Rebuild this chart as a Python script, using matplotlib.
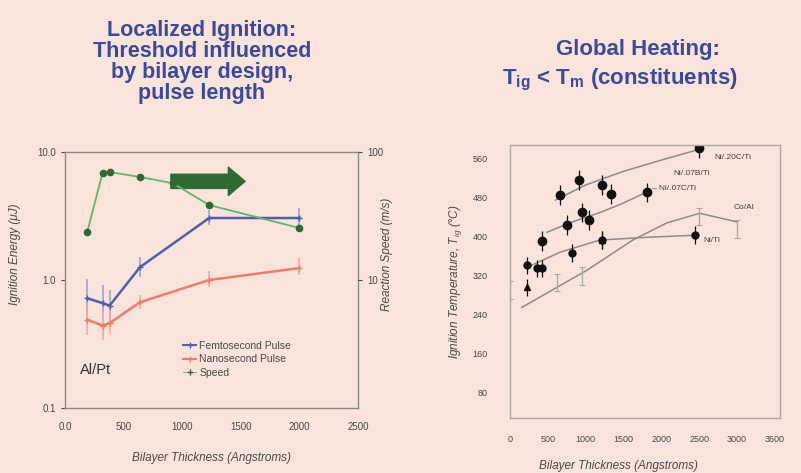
import matplotlib
matplotlib.use("Agg")
import matplotlib.pyplot as plt
from matplotlib.lines import Line2D
from matplotlib.patches import FancyArrowPatch

plt.rcParams['font.family'] = ['Liberation Sans', 'DejaVu Sans']
plt.rcParams['mathtext.fontset'] = 'custom'
plt.rcParams['mathtext.rm'] = 'Liberation Sans'
plt.rcParams['mathtext.it'] = 'Liberation Sans:italic'
plt.rcParams['mathtext.bf'] = 'Liberation Sans:bold'

# ---------------- left chart data (Al/Pt) ----------------
thick_energy = [190, 320, 380, 640, 1230, 2000]
femto_energy = [0.72, 0.66, 0.63, 1.26, 3.05, 3.05]
femto_err_lo = [0.2, 0.17, 0.13, 0.2, 0.35, 0.45]
femto_err_hi = [0.3, 0.25, 0.2, 0.25, 0.5, 0.6]
nano_energy = [0.49, 0.44, 0.46, 0.67, 1.0, 1.24]
nano_err_lo = [0.12, 0.1, 0.08, 0.08, 0.12, 0.15]
nano_err_hi = [0.15, 0.12, 0.1, 0.1, 0.18, 0.25]
thick_speed = [190, 320, 380, 640, 920, 1230, 2000]
speed = [23.7, 68.5, 69.8, 63.8, 57.0, 38.5, 25.5]
left_xticks = [0, 500, 1000, 1500, 2000, 2500]
left_xticklabels = ['0.0', '500', '1000', '1500', '2000', '2500']
legend_labels = ['Femtosecond Pulse', 'Nanosecond Pulse', 'Speed']

# ---------------- right chart data ----------------
ni20_x = [660, 910, 1214, 2500]
ni20_y = [484, 515, 505, 580]
ni07c_x = [422, 752, 950, 1042, 1333, 1807]
ni07c_y = [390, 423, 449, 433, 486, 490]
niti_x = [224, 356, 422, 818, 1214, 2450]
niti_y = [340, 334, 334, 365, 392, 402]
niti_tri_x = [224, 1214]
niti_tri_y = [295, 392]
coal_x = [0, 620, 950, 2500, 3000]
coal_y = [290, 305, 318, 440, 415]

fit_ni20_x = [600, 1000, 1500, 2000, 2500]
fit_ni20_y = [474, 505, 533, 556, 578]
fit_ni07_x = [490, 800, 1200, 1500, 1800]
fit_ni07_y = [408, 428, 449, 468, 490]
fit_niti_x = [224, 660, 1187, 1847, 2467]
fit_niti_y = [336, 367, 392, 398, 402]
fit_coal_x = [158, 1016, 1623, 2071, 2507, 3008]
fit_coal_y = [254, 330, 392, 427, 447, 429]

right_xticks = [0, 500, 1000, 1500, 2000, 2500, 3000, 3500]
right_yticks = [80, 160, 240, 320, 400, 480, 560]

BG = '#f8e4da'
TITLE = '#3a4a9c'
TXT = '#4a4a4a'
BLUE = '#4f5fae'
RED = '#ee7c6c'
GREEN = '#62b56c'
DKGREEN = '#2f6a35'

fig = plt.figure(figsize=(8.01, 4.73), dpi=100, facecolor=BG)

# ---------------- titles ----------------
fig.text(202 / 801, 1 - 62 / 473,
         'Localized Ignition:\nThreshold influenced\nby bilayer design,\npulse length',
         ha='center', va='center', fontsize=15.5, fontweight='bold', color=TITLE,
         linespacing=1.0)
fig.text(638 / 801, 1 - 50 / 473, 'Global Heating:', ha='center', va='center',
         fontsize=16, fontweight='bold', color=TITLE)
fig.text(620 / 801, 1 - 80 / 473, r'T$_\mathbf{ig}$ < T$_\mathbf{m}$ (constituents)',
         ha='center', va='center', fontsize=16, fontweight='bold', color=TITLE)

# ---------------- left chart ----------------
ax = fig.add_axes([65 / 801, 1 - 408 / 473, 293 / 801, 256 / 473])
ax.set_facecolor('none')
ax.set_yscale('log')
ax.set_xlim(0, 2500)
ax.set_ylim(0.1, 10)
ax.errorbar(thick_energy, femto_energy, yerr=[femto_err_lo, femto_err_hi],
            color=BLUE, lw=1.8, ecolor='#9aa4dd', elinewidth=1.2, capsize=0,
            marker='+', ms=4, zorder=3)
ax.errorbar(thick_energy, nano_energy, yerr=[nano_err_lo, nano_err_hi],
            color=RED, lw=1.8, ecolor='#f4aaa0', elinewidth=1.2, capsize=0,
            marker='+', ms=4, zorder=3)
ax.set_yticks([0.1, 1.0, 10.0])
ax.set_yticklabels(['0.1', '1.0', '10.0'])
ax.yaxis.set_minor_locator(matplotlib.ticker.NullLocator())
ax.set_xticks(left_xticks)
ax.set_xticklabels(left_xticklabels)
ax.tick_params(axis='both', labelsize=7, colors=TXT, length=3, width=0.8)
ax.tick_params(axis='x', length=0, pad=10)
for s in ax.spines.values():
    s.set_color('#8a8a8a')
    s.set_linewidth(1.0)
ax.set_xlabel('Bilayer Thickness (Angstroms)', fontsize=8.5, style='italic', color=TXT)
ax.xaxis.set_label_coords(0.5, -0.17)
ax.set_ylabel('Ignition Energy (\u03bcJ)', fontsize=8.5, style='italic', color=TXT)
ax.yaxis.set_label_coords(-0.15, 0.6)
ax.text(0.05, 0.15, 'Al/Pt', transform=ax.transAxes, fontsize=10.5, color='#333333',
        ha='left', va='center')

ax2 = ax.twinx()
ax2.set_yscale('log')
ax2.set_ylim(1, 100)
ax2.plot(thick_speed, speed, color=GREEN, lw=1.3, marker='o', ms=4.5,
         mfc=DKGREEN, mec=DKGREEN, zorder=4)
ax2.set_yticks([10, 100])
ax2.set_yticklabels(['10', '100'])
ax2.yaxis.set_minor_locator(matplotlib.ticker.NullLocator())
ax2.tick_params(axis='y', labelsize=7, colors=TXT, length=3, width=0.8)
for s in ax2.spines.values():
    s.set_visible(False)
ax2.set_ylabel('Reaction Speed (m/s)', fontsize=8.5, style='italic', color=TXT)
ax2.yaxis.set_label_coords(1.08, 0.6)

arrow = FancyArrowPatch((880, 5.9), (1560, 5.9),
                        arrowstyle='simple,head_length=1.0,head_width=1.7,tail_width=0.85',
                        mutation_scale=12, color=DKGREEN, zorder=5)
ax.add_patch(arrow)

handles = [Line2D([], [], color=BLUE, lw=1.5, marker='+', ms=4),
           Line2D([], [], color=RED, lw=1.5, marker='+', ms=4),
           Line2D([], [], color=GREEN, lw=0.6, marker='+', ms=5, mec=DKGREEN)]
leg = ax.legend(handles, legend_labels, loc='upper left', bbox_to_anchor=(0.37, 0.30),
                frameon=False, fontsize=7.5, handlelength=1.3, labelspacing=0.35,
                handletextpad=0.3)
for t in leg.get_texts():
    t.set_color(TXT)

# ---------------- right chart ----------------
bx = fig.add_axes([510 / 801, 1 - 418 / 473, 270 / 801, 273 / 473])
bx.set_facecolor('none')
bx.set_xlim(0, 3570)
bx.set_ylim(27, 587)
GRAY = '#8c8c8c'
bx.plot(fit_ni20_x, fit_ni20_y, color=GRAY, lw=1.1)
bx.plot(fit_ni07_x, fit_ni07_y, color=GRAY, lw=1.1)
bx.plot(fit_niti_x, fit_niti_y, color=GRAY, lw=1.1)
bx.plot(fit_coal_x, fit_coal_y, color=GRAY, lw=1.1)
bx.errorbar(coal_x, coal_y, yerr=18, fmt='none', ecolor='#a8a8a8', elinewidth=0.9,
            capsize=2, capthick=0.8)
bx.errorbar(ni20_x, ni20_y, yerr=20, fmt='o', color='#111111', ms=6,
            elinewidth=0.9, capsize=0)
bx.errorbar(ni07c_x, ni07c_y, yerr=20, fmt='o', color='#111111', ms=6,
            elinewidth=0.9, capsize=0)
bx.errorbar(niti_x, niti_y, yerr=18, fmt='o', color='#111111', ms=5,
            elinewidth=0.9, capsize=0)
bx.errorbar(niti_tri_x, niti_tri_y, yerr=18, fmt='^', color='#111111', ms=5,
            elinewidth=0.9, capsize=0)

lab_kw = dict(fontsize=6, color='#444444', ha='left', va='center')
bx.text(2700, 562, 'Ni/.20C/Ti', **lab_kw)
bx.text(2160, 528, 'Ni/.07B/Ti', **lab_kw)
bx.text(1880, 497, '\u2013 Ni/.07C/Ti', **lab_kw)
bx.text(2960, 458, 'Co/Al', **lab_kw)
bx.text(2560, 392, 'Ni/Ti', **lab_kw)

bx.set_xticks(right_xticks)
bx.set_yticks(right_yticks)
bx.tick_params(axis='both', labelsize=6.5, colors=TXT, length=0)
bx.tick_params(axis='y', pad=16)
bx.tick_params(axis='x', pad=12)
for s in bx.spines.values():
    s.set_color('#b0a8a4')
    s.set_linewidth(1.0)
bx.set_xlabel('Bilayer Thickness (Angstroms)', fontsize=8.5, style='italic', color=TXT)
bx.xaxis.set_label_coords(0.40, -0.155)
bx.set_ylabel(r'Ignition Temperature, T$_{ig}$ ($\degree$C)', fontsize=8.5,
              style='italic', color=TXT)
bx.yaxis.set_label_coords(-0.17, 0.5)

fig.savefig('out.png', dpi=100, facecolor=BG)
